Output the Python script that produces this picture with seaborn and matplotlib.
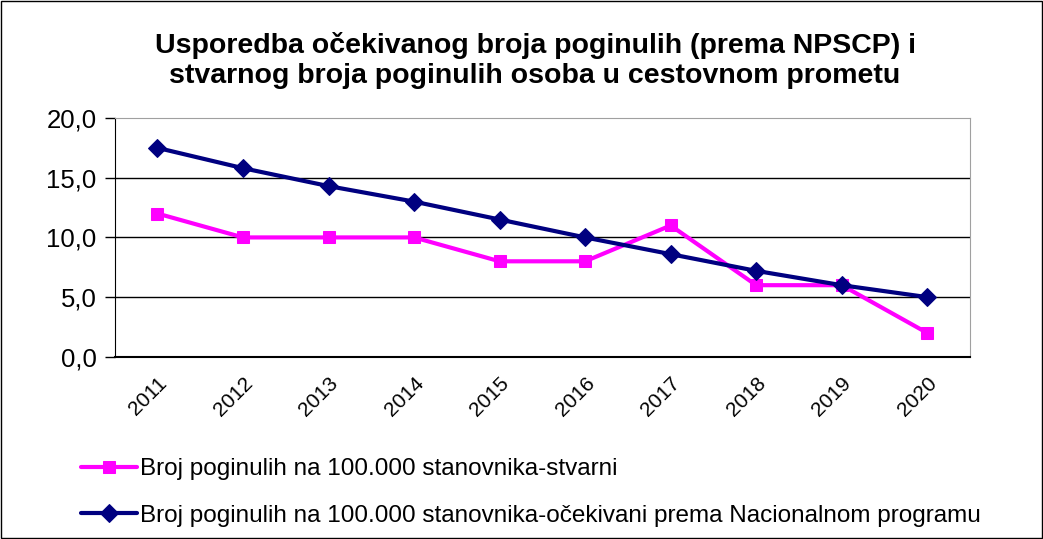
import matplotlib.pyplot as plt
import matplotlib.patches as mpatches
import seaborn as sns
import pandas as pd

sns.set_style("white")
plt.rcParams['font.family'] = ['Liberation Sans', 'DejaVu Sans']
plt.rcParams['text.color'] = 'black'
plt.rcParams['xtick.color'] = 'black'
plt.rcParams['ytick.color'] = 'black'

years = ["2011", "2012", "2013", "2014", "2015", "2016", "2017", "2018", "2019", "2020"]
stvarni = [12.0, 10.0, 10.0, 10.0, 8.0, 8.0, 11.0, 6.0, 6.0, 2.0]
ocekivani = [17.5, 15.8, 14.3, 13.0, 11.5, 10.0, 8.6, 7.2, 6.0, 5.0]
label_stv = "Broj poginulih na 100.000 stanovnika-stvarni"
label_oce = "Broj poginulih na 100.000 stanovnika-očekivani prema Nacionalnom programu"

df = pd.DataFrame({"x": range(len(years)), "stvarni": stvarni, "ocekivani": ocekivani})

fig = plt.figure(figsize=(10.43, 5.39), dpi=100)
ax = fig.add_axes([0.110, 0.338, 0.820, 0.443])

sns.lineplot(data=df, x="x", y="stvarni", ax=ax, color="#ff00ff", lw=3,
             marker="s", markersize=8.5, markeredgecolor="#ff00ff", label=label_stv)
sns.lineplot(data=df, x="x", y="ocekivani", ax=ax, color="#000080", lw=3,
             marker="D", markersize=9.5, markeredgecolor="#000080", label=label_oce)

ax.set_xlim(-0.5, 9.5)
ax.set_ylim(0, 20)
ax.set_yticks([0, 5, 10, 15, 20])
ax.set_yticklabels([f"{v:.1f}".replace(".", ",") for v in [0, 5, 10, 15, 20]], fontsize=18.5)
ax.set_xticks(range(len(years)))
ax.set_xticklabels(years, rotation=45, fontsize=15, ha="right", rotation_mode="anchor")
ax.set_xticks([i - 0.5 for i in range(len(years) + 1)], minor=True)
ax.tick_params(axis="x", which="major", length=0, pad=12)
ax.tick_params(axis="x", which="minor", length=6, width=1, color="black", direction="out")
ax.tick_params(axis="y", length=7, width=1, color="black", direction="out", left=True, pad=6)
ax.set_xlabel("")
ax.set_ylabel("")
for y in [5, 10, 15]:
    ax.axhline(y, color="black", lw=1, zorder=0)
ax.spines["left"].set_color("black")
ax.spines["bottom"].set_color("black")
ax.spines["bottom"].set_linewidth(1.5)
ax.spines["top"].set_color("#a0a0a0")
ax.spines["right"].set_color("#a0a0a0")

fig.text(0.513, 0.888, "Usporedba očekivanog broja poginulih (prema NPSCP) i\nstvarnog broja poginulih osoba u cestovnom prometu",
         fontsize=20.5, fontweight="bold", ha="center", va="center", linespacing=1.17)

ax.get_legend().remove()
h, l = ax.get_legend_handles_labels()
fig.legend(h, l, loc="upper left", bbox_to_anchor=(0.068, 0.168), frameon=False,
           fontsize=17.5, handlelength=2.3, handletextpad=0.15, labelspacing=1.0,
           borderaxespad=0)

fig.patches.append(mpatches.Rectangle((0.001, 0.001), 0.998, 0.998, transform=fig.transFigure,
                                      fill=False, edgecolor="black", lw=1))

fig.savefig("out.png", dpi=100)
